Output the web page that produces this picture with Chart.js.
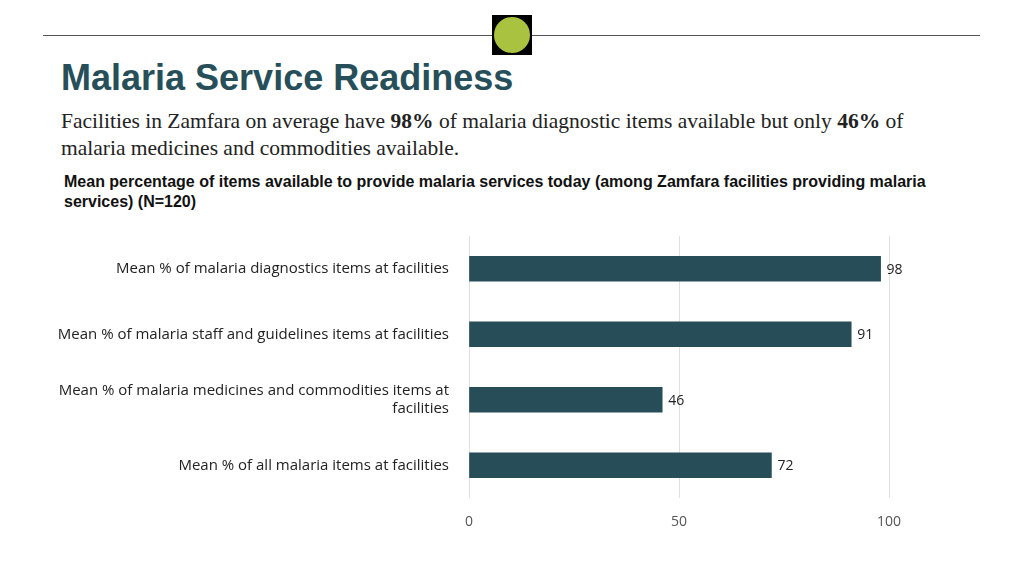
<!DOCTYPE html>
<html><head><meta charset="utf-8">
<script src="https://cdn.jsdelivr.net/npm/chart.js@4"></script>
<style>
body{margin:0;width:1024px;height:576px;background:#fff;position:relative;overflow:hidden;font-family:"Liberation Sans",Arial,sans-serif}
#line{position:absolute;left:43px;top:35px;width:937px;height:1px;background:#555}
#sq{position:absolute;left:492px;top:15px;width:40px;height:40px;background:#000}
#ci{position:absolute;left:494px;top:17px;width:36px;height:36px;border-radius:50%;background:#a9c23f}
#t{position:absolute;left:61px;top:57px;font-size:36px;font-weight:bold;color:#264f5a}
#s{position:absolute;left:61px;top:108px;font-family:"Liberation Serif",serif;font-size:21.5px;color:#222;line-height:27px;width:895px}
#c{position:absolute;left:64px;top:172px;font-size:16px;font-weight:bold;color:#111;line-height:20px;width:870px}
#cv{position:absolute;left:0;top:215px}
</style></head><body>
<div id="line"></div><div id="sq"></div><div id="ci"></div>
<div id="t">Malaria Service Readiness</div>
<div id="s">Facilities in Zamfara on average have <b>98%</b> of malaria diagnostic items available but only <b>46%</b> of malaria medicines and commodities available.</div>
<div id="c">Mean percentage of items available to provide malaria services today (among Zamfara facilities providing malaria services) (N=120)</div>
<canvas id="cv" width="1024" height="320" style="width:1024px;height:320px"></canvas>
<script>
const categories=[["Mean % of malaria diagnostics items at facilities"],["Mean % of malaria staff and guidelines items at facilities"],["Mean % of malaria medicines and commodities items at","facilities"],["Mean % of all malaria items at facilities"]];
const values=[98,91,46,72];
const xTicks=[0,50,100];
const labelsPlugin={id:'lbl',afterDatasetsDraw(ch){const c=ch.ctx;const m=ch.getDatasetMeta(0);c.save();c.font='14px "Open Sans"';c.fillStyle='#222';c.textBaseline='middle';m.data.forEach((b,i)=>{c.fillText(values[i],b.x+6,b.y+1);});c.restore();}};
new Chart(document.getElementById('cv'),{type:'bar',data:{labels:categories,datasets:[{data:values,backgroundColor:'#264d58',barThickness:25}]},
options:{indexAxis:'y',responsive:false,animation:false,devicePixelRatio:1,
layout:{padding:{left:0,right:135,top:0,bottom:0}},
plugins:{legend:{display:false},tooltip:{enabled:false}},
scales:{x:{min:0,max:100,afterBuildTicks(a){a.ticks=xTicks.map(v=>({value:v}));},afterFit(a){a.height=37;},border:{display:false},grid:{color:'#e0e0e0',drawTicks:false},ticks:{padding:16,color:'#555',font:{family:'"Open Sans"',size:14}}},
y:{afterFit(a){a.width=469;},border:{display:false},grid:{display:false},ticks:{padding:12,color:'#222',font:{family:'"Open Sans"',size:14.5},font:{family:'"Open Sans"',size:15}}}}},
plugins:[labelsPlugin]});
</script></body></html>
